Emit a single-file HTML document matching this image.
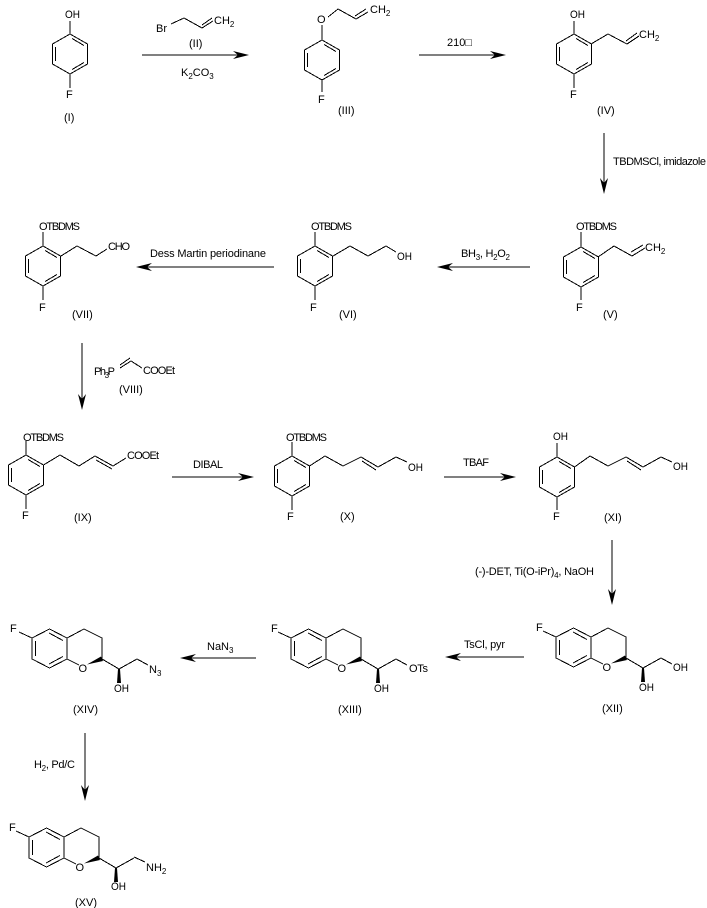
<!DOCTYPE html>
<html><head><meta charset="utf-8"><title>Nebivolol intermediate synthesis</title>
<style>
html,body{margin:0;padding:0;background:#fff;width:707px;height:908px;overflow:hidden}
svg{display:block}
text{font-family:"Liberation Sans",sans-serif;font-size:11px;fill:#000}
.s{font-size:8px}
.l{fill:none;stroke:#000;stroke-width:1;shape-rendering:crispEdges}
</style></head><body>
<svg width="707" height="908" viewBox="0 0 707 908" xmlns="http://www.w3.org/2000/svg">
<defs>
<g id="ring"><path class="l" d="M0 0L17.5 10V30L0 40L-17.5 30V10Z M2 4.5L14 11.5 M14 28.5L2 35.5 M-14.5 13V27"/></g>
<g id="chroman">
<path class="l" d="M0 0L17.5 -9L35 0V21L17.5 30L0 21Z M17 -5L31 2.5 M31 18.5L17 26 M3.5 3V18 M35 0L52 -9L70 0V21 M35 21L47 27"/>
<path d="M55 26.5L69 18.5L71 23Z"/>
<path class="l" d="M70 21L87 31L105 21"/>
<path d="M86 31H88L89 45H85Z"/>
<path class="l" d="M-13 -6L0 0"/>
<text x="46.5" y="34">O</text>
</g>
<path id="ah" d="M0 0L-16 -4L-11 0L-16 4Z"/>
</defs>

<!-- I -->
<use href="#ring" x="70" y="34"/><path class="l" d="M70 34V21M70 74V88"/>
<text x="65" y="18" textLength="15" lengthAdjust="spacingAndGlyphs">OH</text><text x="66" y="98">F</text><text x="64" y="121">(I)</text>
<!-- II -->
<text x="156" y="32" textLength="11">Br</text>
<path class="l" d="M171 24L184 18L202 28L213 21M202 25L212 18"/>
<text x="214" y="24">CH<tspan class="s" dy="3">2</tspan></text><text x="189" y="47">(II)</text>
<path class="l" d="M142 55H240"/><use href="#ah" transform="translate(249,55)"/>
<text x="181" y="76">K<tspan class="s" dy="3">2</tspan><tspan dy="-3">CO</tspan><tspan class="s" dy="3">3</tspan></text>
<!-- III -->
<use href="#ring" x="322" y="40"/><path class="l" d="M322 40V25M322 79V92M328 17L338 9L356 19L368 12M355 16L366 9"/>
<text x="317" y="23">O</text><text x="318" y="103">F</text>
<text x="370" y="13">CH<tspan class="s" dy="3">2</tspan></text><text x="338" y="114">(III)</text>
<path class="l" d="M419 55H497"/><use href="#ah" transform="translate(506,55)"/>
<text x="447" y="46">210□</text>
<!-- IV -->
<use href="#ring" x="574" y="34"/><path class="l" d="M574 34V21M574 74V88M591 44L608 34L627 44L639 36M626 41L637 33"/>
<text x="570" y="18" textLength="15" lengthAdjust="spacingAndGlyphs">OH</text><text x="570" y="98">F</text>
<text x="639" y="38">CH<tspan class="s" dy="3">2</tspan></text><text x="597" y="114">(IV)</text>
<path class="l" d="M604 133V185"/><use href="#ah" transform="translate(604,194) rotate(90)"/>
<text x="613" y="165" textLength="93">TBDMSCl, imidazole</text>
<!-- V -->
<use href="#ring" x="581" y="247"/><path class="l" d="M581 247V232M581 287V300M598 257L614 246L632 256L645 248M631 252L643 245"/>
<text x="576" y="230" textLength="41">OTBDMS</text><text x="576" y="311">F</text>
<text x="645" y="251">CH<tspan class="s" dy="3">2</tspan></text><text x="603" y="318">(V)</text>
<path class="l" d="M530 267H446"/><use href="#ah" transform="translate(437,267) rotate(180)"/>
<text x="461" y="257" textLength="49">BH<tspan class="s" dy="3">3</tspan><tspan dy="-3">, H</tspan><tspan class="s" dy="3">2</tspan><tspan dy="-3">O</tspan><tspan class="s" dy="3">2</tspan></text>
<!-- VI -->
<use href="#ring" x="315" y="246"/><path class="l" d="M315 246V232M315 286V300M333 256L350 246L368 256L386 246L396 252"/>
<text x="311" y="230" textLength="41">OTBDMS</text><text x="310" y="311">F</text>
<text x="397" y="260" textLength="15" lengthAdjust="spacingAndGlyphs">OH</text><text x="339" y="318">(VI)</text>
<path class="l" d="M274 267H146"/><use href="#ah" transform="translate(136,267) rotate(180)"/>
<text x="150" y="257" textLength="116">Dess Martin periodinane</text>
<!-- VII -->
<use href="#ring" x="43" y="246"/><path class="l" d="M43 246V232M43 286V300M61 256L77 246L96 256L107 249"/>
<text x="39" y="230" textLength="41">OTBDMS</text><text x="39" y="311">F</text>
<text x="108" y="250" textLength="22">CHO</text><text x="72" y="318">(VII)</text>
<path class="l" d="M82 343V401"/><use href="#ah" transform="translate(82,410) rotate(90)"/>
<!-- VIII -->
<text x="94" y="375" textLength="21">Ph<tspan class="s" dy="3">3</tspan><tspan dy="-3">P</tspan></text>
<path class="l" d="M120 368L131 361L142 368M120 365L130 358"/>
<text x="143" y="374" textLength="32">COOEt</text><text x="119" y="393">(VIII)</text>
<!-- IX -->
<use href="#ring" x="26" y="455"/><path class="l" d="M26 455V441M26 495V509M43.500 465L60 455L79 466L95 456L113 466L126 458M96 460L112 469"/>
<text x="23" y="441" textLength="41">OTBDMS</text><text x="22" y="519">F</text>
<text x="127" y="459" textLength="32">COOEt</text><text x="74" y="521">(IX)</text>
<path class="l" d="M172 477H245"/><use href="#ah" transform="translate(254,477)"/>
<text x="193" y="468" textLength="30">DIBAL</text>
<!-- X -->
<use href="#ring" x="292" y="456"/><path class="l" d="M292 456V442M292 496V510M309.500 466L325 456L343 466L361 457L378 467L396 457L407 462M362 461L376 470"/>
<text x="286" y="441" textLength="41">OTBDMS</text><text x="287" y="520">F</text>
<text x="408" y="471" textLength="15" lengthAdjust="spacingAndGlyphs">OH</text><text x="340" y="520">(X)</text>
<path class="l" d="M444 477H507"/><use href="#ah" transform="translate(516,477)"/>
<text x="463" y="466" textLength="26">TBAF</text>
<!-- XI -->
<use href="#ring" x="557" y="457"/><path class="l" d="M557 457V443M557 497V510M574.500 467L590 456L608 466L626 457L643 467L661 457L672 462M627 461L641 470"/>
<text x="553" y="440" textLength="15" lengthAdjust="spacingAndGlyphs">OH</text><text x="553" y="520">F</text>
<text x="673" y="470" textLength="15" lengthAdjust="spacingAndGlyphs">OH</text><text x="604" y="521">(XI)</text>
<path class="l" d="M612 540V596"/><use href="#ah" transform="translate(612,605) rotate(90)"/>
<text x="475" y="575" textLength="119">(-)-DET, Ti(O-iPr)<tspan class="s" dy="3">4</tspan><tspan dy="-3">, NaOH</tspan></text>
<!-- XII -->
<use href="#chroman" x="556" y="637"/><path class="l" d="M661 658L672 664"/>
<text x="536" y="631">F</text><text x="639" y="691" textLength="15" lengthAdjust="spacingAndGlyphs">OH</text>
<text x="673" y="671" textLength="15" lengthAdjust="spacingAndGlyphs">OH</text><text x="602" y="712">(XII)</text>
<path class="l" d="M524 657H455"/><use href="#ah" transform="translate(445,657) rotate(180)"/>
<text x="464" y="648" textLength="41">TsCl, pyr</text>
<!-- XIII -->
<use href="#chroman" x="291" y="638"/><path class="l" d="M396 659L407 665"/>
<text x="271" y="632">F</text><text x="374" y="692" textLength="15" lengthAdjust="spacingAndGlyphs">OH</text>
<text x="409" y="672" textLength="19">OTs</text><text x="338" y="713">(XIII)</text>
<path class="l" d="M256 658H188"/><use href="#ah" transform="translate(180,658) rotate(180)"/>
<text x="207" y="650">NaN<tspan class="s" dy="3">3</tspan></text>
<!-- XIV -->
<use href="#chroman" x="32" y="638"/><path class="l" d="M137 659L148 665"/>
<text x="10" y="632">F</text><text x="114" y="692" textLength="15" lengthAdjust="spacingAndGlyphs">OH</text>
<text x="149" y="673">N<tspan class="s" dy="3">3</tspan></text><text x="73" y="713">(XIV)</text>
<path class="l" d="M85 733V792"/><use href="#ah" transform="translate(85,801) rotate(90)"/>
<text x="34" y="768" textLength="41">H<tspan class="s" dy="3">2</tspan><tspan dy="-3">, Pd/C</tspan></text>
<!-- XV -->
<use href="#chroman" x="29" y="837"/><path class="l" d="M134 857L145 862"/>
<text x="9" y="831">F</text><text x="111" y="890" textLength="15" lengthAdjust="spacingAndGlyphs">OH</text>
<text x="146" y="871">NH<tspan class="s" dy="3">2</tspan></text><text x="75" y="906">(XV)</text>
</svg>
</body></html>
